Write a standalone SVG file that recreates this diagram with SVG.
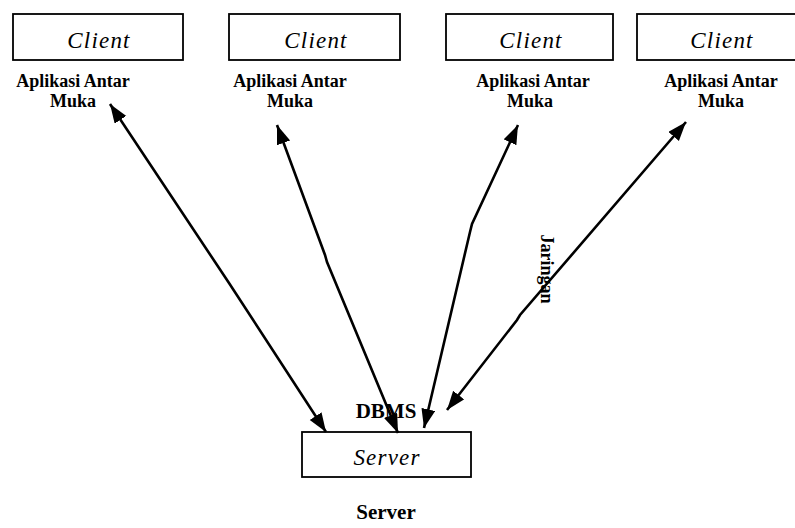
<svg xmlns="http://www.w3.org/2000/svg" width="795" height="528" viewBox="0 0 795 528">
<style>
.box{fill:#fff;stroke:#000;stroke-width:1.8}
.it{font-family:"Liberation Serif",serif;font-style:italic;font-size:23px;letter-spacing:1.2px;text-anchor:middle}
.lb{font-family:"Liberation Serif",serif;font-weight:bold;font-size:18px;text-anchor:middle}
.big{font-family:"Liberation Serif",serif;font-weight:bold;font-size:21px;text-anchor:middle}
.ln{fill:none;stroke:#000;stroke-width:2.6;marker-start:url(#ah);marker-end:url(#ah)}
</style>
<defs>
<marker id="ah" markerUnits="userSpaceOnUse" markerWidth="20" markerHeight="16" refX="19" refY="7" orient="auto-start-reverse">
<path d="M0,0 L19,7 L0,14 z" fill="#000"/>
</marker>
</defs>
<rect width="795" height="528" fill="#fff"/>
<g id="client1">
<rect class="box" x="13" y="14" width="170" height="46"/>
<text class="it" x="99" y="48">Client</text>
<text class="lb" x="73" y="87">Aplikasi Antar</text>
<text class="lb" x="73" y="107">Muka</text>
</g>
<g id="client2">
<rect class="box" x="229" y="14" width="171" height="46"/>
<text class="it" x="316" y="48">Client</text>
<text class="lb" x="290" y="87">Aplikasi Antar</text>
<text class="lb" x="290" y="107">Muka</text>
</g>
<g id="client3">
<rect class="box" x="446" y="14" width="167" height="46"/>
<text class="it" x="531" y="48">Client</text>
<text class="lb" x="533" y="87">Aplikasi Antar</text>
<text class="lb" x="530" y="107">Muka</text>
</g>
<g id="client4">
<rect class="box" x="637" y="14" width="170" height="46"/>
<text class="it" x="722" y="48">Client</text>
<text class="lb" x="721" y="87">Aplikasi Antar</text>
<text class="lb" x="721" y="107">Muka</text>
</g>
<g id="server">
<text class="big" x="386" y="418">DBMS</text>
<rect class="box" x="302" y="432" width="169" height="45"/>
<text class="it" x="387" y="465">Server</text>
<text class="big" x="386" y="519">Server</text>
</g>
<g id="connectors">
<polyline class="ln" points="110,104 229,283 326,432"/>
<polyline class="ln" points="277,125 325,255 327,262 398,433"/>
<polyline class="ln" points="518,125 472,224 470,232 424,428"/>
<polyline class="ln" points="686,122 520,315 517,320 447,410"/>
<text class="lb" transform="translate(541,269) rotate(90)">Jaringan</text>
</g>
</svg>
